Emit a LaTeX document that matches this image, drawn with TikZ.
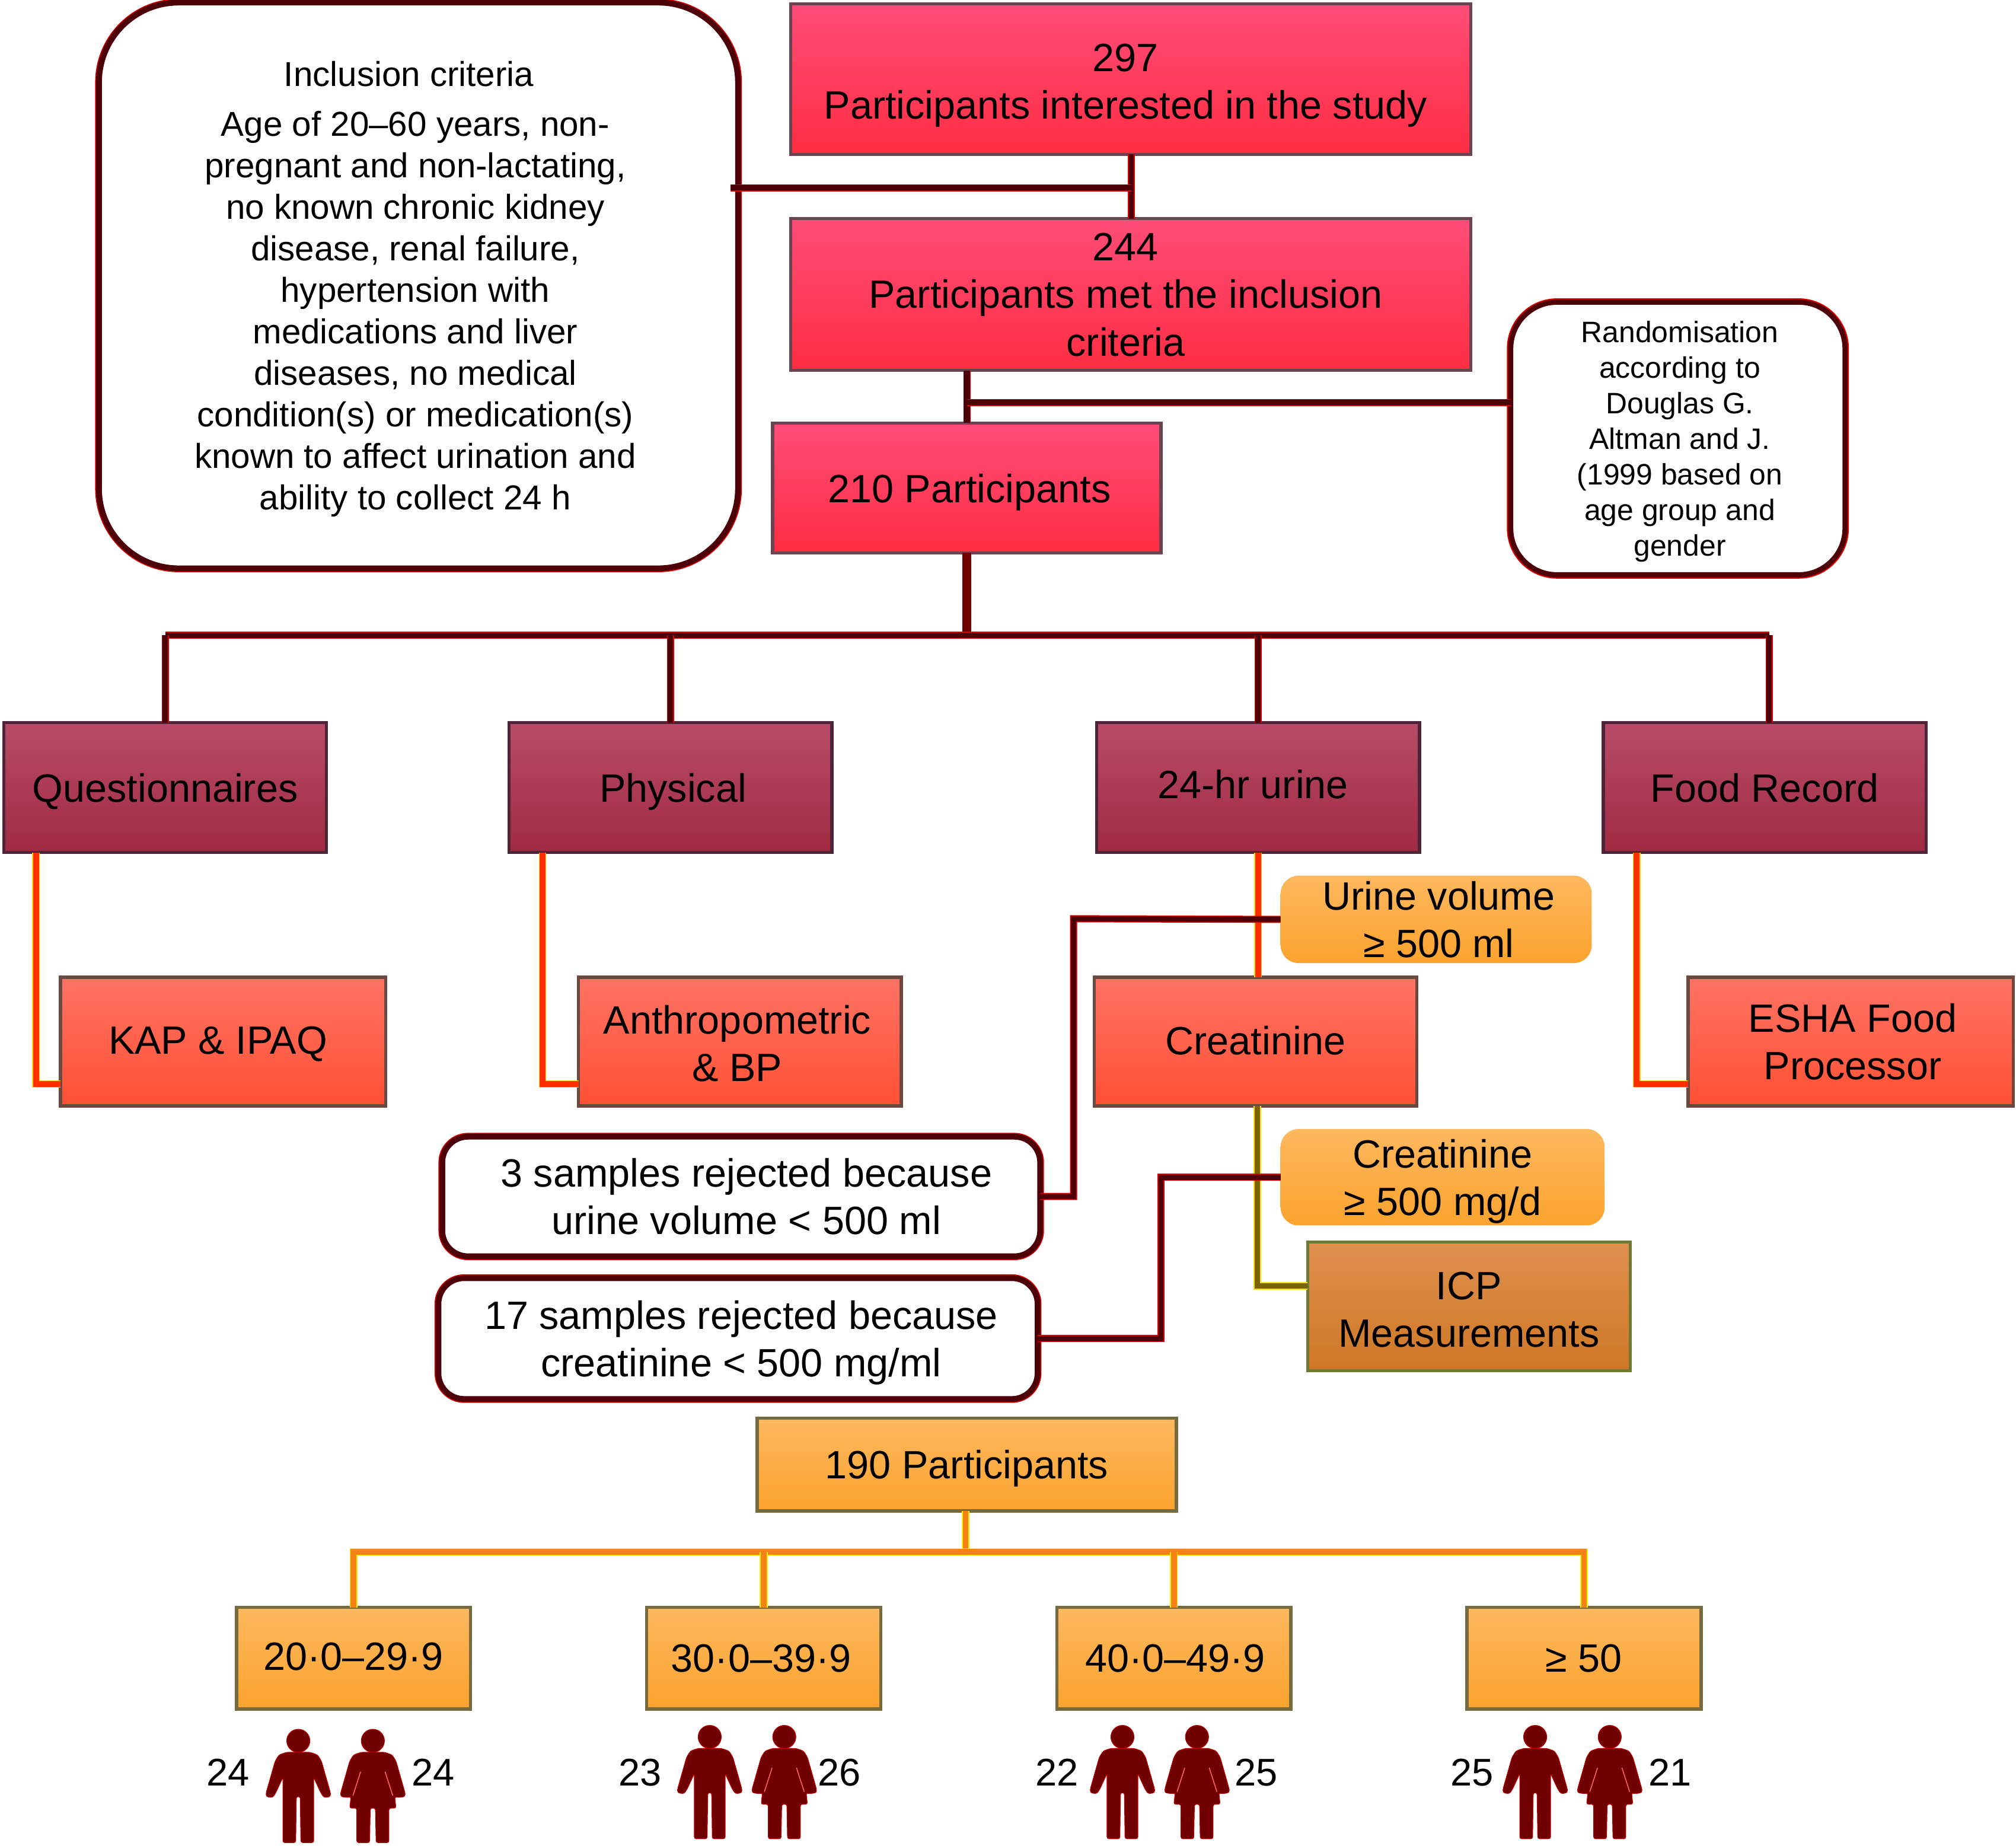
\documentclass[tikz,border=0pt]{standalone}
\usepackage{fontspec}
\setmainfont{Liberation Sans}

\definecolor{redtop}{HTML}{FF4D78}
\definecolor{redbot}{HTML}{FF2D42}
\definecolor{rededge}{HTML}{6A4450}
\definecolor{marontop}{HTML}{B84C68}
\definecolor{maronbot}{HTML}{A02A42}
\definecolor{maronedge}{HTML}{4E2438}
\definecolor{salmontop}{HTML}{FF7364}
\definecolor{salmonbot}{HTML}{FF5034}
\definecolor{salmonedge}{HTML}{6A4A40}
\definecolor{ortop}{HTML}{FDB85E}
\definecolor{orbot}{HTML}{FBA32E}
\definecolor{oredge}{HTML}{766A40}
\definecolor{brtop}{HTML}{DF904E}
\definecolor{brbot}{HTML}{CE7826}
\definecolor{bredge}{HTML}{6E7A34}
\definecolor{wine}{HTML}{4E0008}
\definecolor{figfill}{HTML}{700000}
\definecolor{hotcore}{HTML}{FF2E00}
\definecolor{goldcore}{HTML}{F58214}
\definecolor{olivecore}{HTML}{7D6200}

\newcommand{\nudge}{\hspace*{-8pt}}
\newcommand{\nudgeb}{\hspace*{-5pt}}

\tikzset{
	box/.style={rectangle, inner sep=0pt, outer sep=0pt, align=center, line width=2.5pt, text depth=0pt, font=\fontsize{30.7}{37}\selectfont},
	redbox/.style={box, draw=rededge, top color=redtop, bottom color=redbot},
	maronbox/.style={box, draw=maronedge, top color=marontop, bottom color=maronbot},
	salmonbox/.style={box, draw=salmonedge, top color=salmontop, bottom color=salmonbot},
	orbox/.style={box, draw=oredge, top color=ortop, bottom color=orbot},
	brbox/.style={box, draw=bredge, top color=brtop, bottom color=brbot},
	softbox/.style={box, rounded corners=14pt, top color=ortop, bottom color=orbot},
	notebox/.style={box, draw=wine, fill=white, line width=4.5pt, preaction={draw=red!85!black, line width=6pt}},
	count/.style={inner sep=0pt, font=\fontsize{30}{36}\selectfont},
	darkline/.style={draw=wine, line width=4pt, preaction={draw=red!85!black, line width=5.5pt}},
	trunkline/.style={draw=figfill, line width=7pt},
	hotline/.style={draw=hotcore, line width=4.5pt, preaction={draw=yellow!80!orange, line width=5.8pt}},
	oliveline/.style={draw=olivecore, line width=4pt, preaction={draw=yellow!85!orange, line width=5.8pt}},
	goldline/.style={draw=goldcore, line width=4.5pt, preaction={draw=yellow, line width=6.2pt}},
	figure/.style={fill=figfill, draw=red!75!black, line width=0.5pt},
	man/.pic={
		\path[figure] (0,8.8) circle (9);
		\path[figure, yscale=0.746, rounded corners=1.5pt] (-9,23.7) -- (9,23.7) -- (15,26.5) -- (18,33) -- (25,66) -- (25,70) -- (20,71) -- (17.5,66) -- (12,50) -- (12,118) -- (2,118) -- (1.5,70) -- (-1.5,70) -- (-2,118) -- (-12,118) -- (-12,50) -- (-17.5,66) -- (-20,71) -- (-25,70) -- (-25,66) -- (-18,33) -- (-15,26.5) -- cycle;
	},
	woman/.pic={
		\path[figure] (0,8.8) circle (9);
		\path[figure, yscale=0.746, rounded corners=1.5pt] (-9,23.7) -- (9,23.7) -- (15,26.5) -- (18,33) -- (25,66) -- (25,70) -- (19,71) -- (17,70) -- (18,82) -- (12.5,82) -- (12.5,118) -- (2.5,118) -- (2,82) -- (-2,82) -- (-2.5,118) -- (-12.5,118) -- (-12.5,82) -- (-18,82) -- (-17,70) -- (-19,71) -- (-25,70) -- (-25,66) -- (-18,33) -- (-15,26.5) -- cycle;
		\draw[red!60!white, line width=0.7pt, yscale=0.746] (9.5,44) -- (15.5,69);
		\draw[red!60!white, line width=0.7pt, yscale=0.746] (-9.5,44) -- (-15.5,69);
	}
}

\begin{document}
\begin{tikzpicture}[x=1pt, y=-1pt]
	\useasboundingbox (0,0) rectangle (1568,1435.6);

	%red boxes at the top
	\node[redbox, text height=62pt, minimum width=529, minimum height=117] (interested) at (879.5,61.5) {\nudge 297\\\nudge Participants interested in the study};
	\node[redbox, minimum width=529, minimum height=118] (met) at (879.5,229) {\nudge 244\\\nudge Participants met the inclusion\\\nudge criteria};
	\node[redbox, text depth=-3pt, minimum width=302, minimum height=101] (enrolled) at (752,379.5) {\hspace*{4pt}210 Participants};

	%notes beside them
	\node[notebox, text depth=-2pt, rounded corners=62pt, minimum width=497, minimum height=440, font=\fontsize{26.9}{32.3}\selectfont] (inclusion) at (325.5,222) {\hspace*{-15pt}Inclusion criteria\\[6.7pt]\nudgeb Age of 20--60 years, non-\\\nudgeb pregnant and non-lactating,\\\nudgeb no known chronic kidney\\\nudgeb disease, renal failure,\\\nudgeb hypertension with\\\nudgeb medications and liver\\\nudgeb diseases, no medical\\\nudgeb condition(s) or medication(s)\\\nudgeb known to affect urination and\\\nudgeb ability to collect 24 h};
	\node[notebox, line width=4pt, rounded corners=36pt, minimum width=260, minimum height=212, font=\fontsize{23}{27.7}\selectfont] (randomisation) at (1305,341) {\hspace*{3pt}Randomisation\\\hspace*{3pt}according to\\\hspace*{3pt}Douglas G.\\\hspace*{3pt}Altman and J.\\\hspace*{3pt}(1999 based on\\\hspace*{3pt}age group and\\\hspace*{3pt}gender};

	%second row
	\node[maronbox, minimum width=251, minimum height=101] (questionnaires) at (128.5,612.5) {Questionnaires};
	\node[maronbox, minimum width=251, minimum height=101] (physical) at (521.5,612.5) {\hspace*{4pt}Physical};
	\node[maronbox, text depth=5pt, minimum width=251, minimum height=101] (urine) at (978.5,612.5) {\nudge 24-hr urine};
	\node[maronbox, text depth=-3pt, minimum width=251, minimum height=101] (food) at (1372.5,612.5) {Food Record};

	%third row
	\node[salmonbox, text depth=2pt, minimum width=253, minimum height=100] (kap) at (173.5,810) {\nudge KAP \& IPAQ};
	\node[salmonbox, text height=62pt, minimum width=251, minimum height=100] (anthro) at (575.5,810) {\hspace*{-4pt}Anthropometric\\\hspace*{-4pt}\& BP};
	\node[salmonbox, text depth=2pt, minimum width=251, minimum height=100] (creatinine) at (976.5,810) {Creatinine};
	\node[salmonbox, minimum width=253, minimum height=100] (esha) at (1439.5,810) {\hspace*{3pt}ESHA Food\\\hspace*{3pt}Processor};

	%urine criteria and rejected samples
	\node[softbox, minimum width=242, minimum height=68] (volume) at (1117,715) {\hspace*{4pt}Urine volume\\\hspace*{4pt}≥ 500 ml};
	\node[softbox, minimum width=252, minimum height=75] (limit) at (1122,915.5) {Creatinine\\≥ 500 mg/d};
	\node[brbox, text height=63pt, minimum width=251, minimum height=100] (icp) at (1142.5,1016) {ICP\\Measurements};
	\node[notebox, text depth=-2pt, rounded corners=20pt, minimum width=465, minimum height=93] (rejectedA) at (576.5,930.5) {\hspace*{8pt}3 samples rejected because\\\hspace*{8pt}urine volume < 500 ml};
	\node[notebox, text depth=-3pt, rounded corners=20pt, minimum width=466, minimum height=94] (rejectedB) at (574,1041) {\hspace*{5pt}17 samples rejected because\\\hspace*{5pt}creatinine < 500 mg/ml};

	%final participants and age groups
	\node[orbox, minimum width=326, minimum height=72] (final) at (752,1139) {190 Participants};
	\node[orbox, text depth=3pt, minimum width=182, minimum height=79] (ageA) at (275,1289.5) {20·0--29·9};
	\node[orbox, minimum width=182, minimum height=79] (ageB) at (594,1289.5) {\hspace*{-4pt}30·0--39·9};
	\node[orbox, minimum width=182, minimum height=79] (ageC) at (913,1289.5) {\hspace*{2pt}40·0--49·9};
	\node[orbox, minimum width=182, minimum height=79] (ageD) at (1232,1289.5) {≥ 50};

	%turning points of the connectors
	\coordinate (jointA) at (880,146);
	\coordinate (jointB) at (752,313);
	\coordinate (busL) at (128.5,494);
	\coordinate (busM) at (752,494);
	\coordinate (busR) at (1376,494);
	\coordinate (turnQ) at (28,843);
	\coordinate (turnP) at (422,843);
	\coordinate (turnF) at (1273,843);
	\coordinate (turnV) at (835,714.5);
	\coordinate (turnL) at (903,915.5);
	\coordinate (turnI) at (978,1000);
	\coordinate (busO) at (751,1207);

	%upper connectors
	\draw[darkline, line width=3.5pt] (interested.south -| jointA) -- (met.north -| jointA);
	\draw[darkline] (jointA) -- (jointA -| inclusion.east) -- ++(-6,0);
	\draw[darkline, line width=5pt] (met.south -| enrolled.north) -- (enrolled.north);
	\draw[darkline] (jointB) -- (jointB -| randomisation.west);
	\draw[trunkline] (enrolled.south) -- (busM);
	\draw[darkline] (busL) -- (busR);
	\draw[darkline] (busL) -- (questionnaires.north);
	\draw[darkline] (busL -| physical.north) -- (physical.north);
	\draw[darkline] (busL -| urine.north) -- (urine.north);
	\draw[darkline] (busR) -- (busR |- food.north);

	%connectors of the second row
	\draw[hotline] (questionnaires.south -| turnQ) -- (turnQ) -- (turnQ -| kap.west);
	\draw[hotline] (physical.south -| turnP) -- (turnP) -- (turnP -| anthro.west);
	\draw[hotline] (food.south -| turnF) -- (turnF) -- (turnF -| esha.west);
	\draw[hotline] (urine.south) -- (urine.south |- creatinine.north);
	\draw[oliveline] (creatinine.south -| turnI) -- (turnI) -- (turnI -| icp.west);

	%rejected samples
	\draw[darkline] (volume.west) -- (turnV) -- (turnV |- rejectedA.east) -- (rejectedA.east);
	\draw[darkline] (limit.west) -- (turnL) -- (turnL |- rejectedB.east) -- (rejectedB.east);

	%lower connectors
	\draw[goldline] (final.south -| busO) -- (busO);
	\draw[goldline] (ageA.north) -- (ageA.north |- busO) -- (ageD.north |- busO) -- (ageD.north);
	\draw[goldline] (ageB.north) -- (ageB.north |- busO);
	\draw[goldline] (ageC.north) -- (ageC.north |- busO);

	%people under the age groups
	\pic (menA) at (232,1345) {man};
	\pic (womenA) at (290,1345) {woman};
	\pic (menB) at (552,1342) {man};
	\pic (womenB) at (610,1342) {woman};
	\pic (menC) at (873,1342) {man};
	\pic (womenC) at (931,1342) {woman};
	\pic (menD) at (1194,1342) {man};
	\pic (womenD) at (1252,1342) {woman};
	\node[count] (countMA) at (177.5,1378.5) {24};
	\node[count] (countWA) at (337,1378.5) {24};
	\node[count] (countMB) at (498,1378.5) {23};
	\node[count] (countWB) at (653,1378.5) {26};
	\node[count] (countMC) at (822,1378.5) {22};
	\node[count] (countWC) at (977,1378.5) {25};
	\node[count] (countMD) at (1145,1378.5) {25};
	\node[count] (countWD) at (1299,1378.5) {21};
\end{tikzpicture}
\end{document}
